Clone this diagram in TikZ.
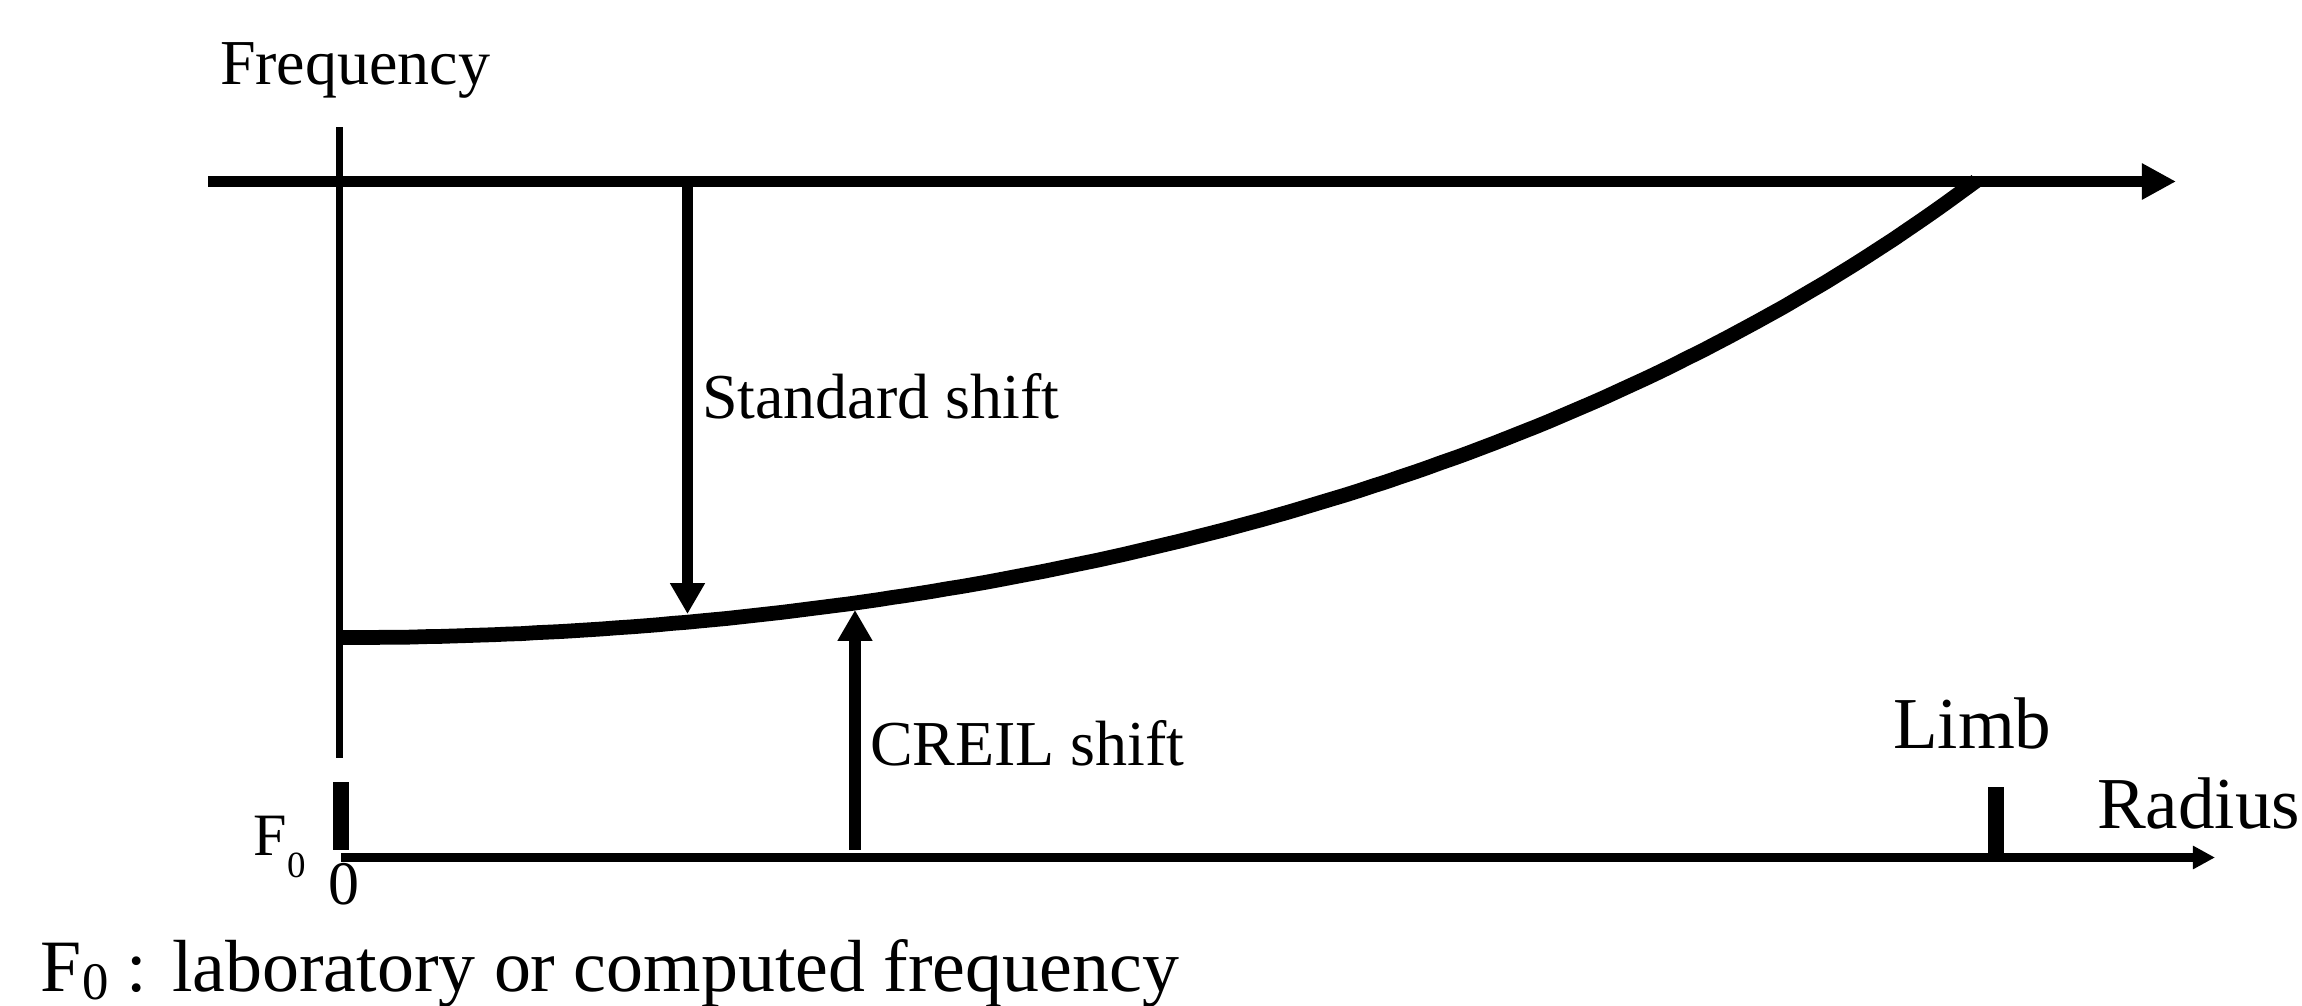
\documentclass[tikz,border=0pt]{standalone}
\usepackage{fontspec}
\setmainfont{Liberation Serif}
\usetikzlibrary{arrows.meta}

\begin{document}
\begin{tikzpicture}[x=0.01cm, y=-0.01cm,
  lbl/.style={inner sep=0pt, outer sep=0pt, anchor=base west,
    font=\fontsize{18.2pt}{20pt}\selectfont},
  biglbl/.style={lbl, font=\fontsize{20.8pt}{23pt}\selectfont},
  faxis/.style={line width=3.2pt, -{Triangle[length=9.7pt,width=9.7pt]}},
  raxis/.style={line width=2.4pt, -{Triangle[length=6.3pt,width=6.3pt]}},
  vaxis/.style={line width=2.2pt},
  shiftarrow/.style={line width=3.3pt, -{Triangle[length=8.8pt,width=9.4pt]}},
  curveline/.style={line width=4.2pt},
  tickmark/.style={line width=4.4pt},
]
\useasboundingbox (0,0) rectangle (2302,1006);

% key points
\coordinate (ftop)   at (339.5,127);
\coordinate (fbot)   at (339.5,758);
\coordinate (hleft)  at (208,181.5);
\coordinate (hright) at (2176,181.5);
\coordinate (rleft)  at (341,857.5);
\coordinate (rright) at (2215,857.5);
\coordinate (f0top)  at (340.8,782);
\coordinate (f0bot)  at (340.8,850);
\coordinate (limbtop) at (1996,787);
\coordinate (limbbot) at (1996,854);
\coordinate (stdfrom) at (687.5,187);
\coordinate (stdto)   at (687.5,614);
\coordinate (crfrom)  at (855,850);
\coordinate (crto)    at (855,610);

% axes
\draw[vaxis] (ftop) -- (fbot);
\draw[faxis] (hleft) -- (hright);
\draw[raxis] (rleft) -- (rright);
\draw[tickmark] (f0top) -- (f0bot);
\draw[tickmark] (limbtop) -- (limbbot);

% observed frequency against radius, rising towards the limb
\draw[curveline] plot[domain=0:1633, samples=120, smooth]
  ({343+\x}, {637.5 - 2173*(1/sqrt(1-(\x/2900)^2) - 1)});

% shift arrows
\draw[shiftarrow] (stdfrom) -- (stdto);
\draw[shiftarrow] (crfrom) -- (crto);

% labels
\node[lbl] (freq) at (220,84) {Frequency};
\node[lbl] (std) at (702,418) {Standard shift};
\node[lbl] (creil) at (870,765) {CREIL shift};
\node[biglbl] (limb) at (1893,748) {Limb};
\node[biglbl] (radius) at (2097,828) {Radius};
\node[lbl, font=\fontsize{17.1pt}{19pt}\selectfont] (fzero) at (253,855) {F};
\node[lbl, font=\fontsize{10.5pt}{12pt}\selectfont] (fzerosub) at (287,877) {0};
\node[lbl, anchor=base, font=\fontsize{17.6pt}{19pt}\selectfont] (origin) at (343.5,904) {0};
\node[lbl, font=\fontsize{21pt}{23pt}\selectfont] (legend) at (41,991)
  {F\raisebox{-0.12em}{\fontsize{15pt}{16pt}\selectfont 0} : laboratory or computed frequency};
\end{tikzpicture}
\end{document}
